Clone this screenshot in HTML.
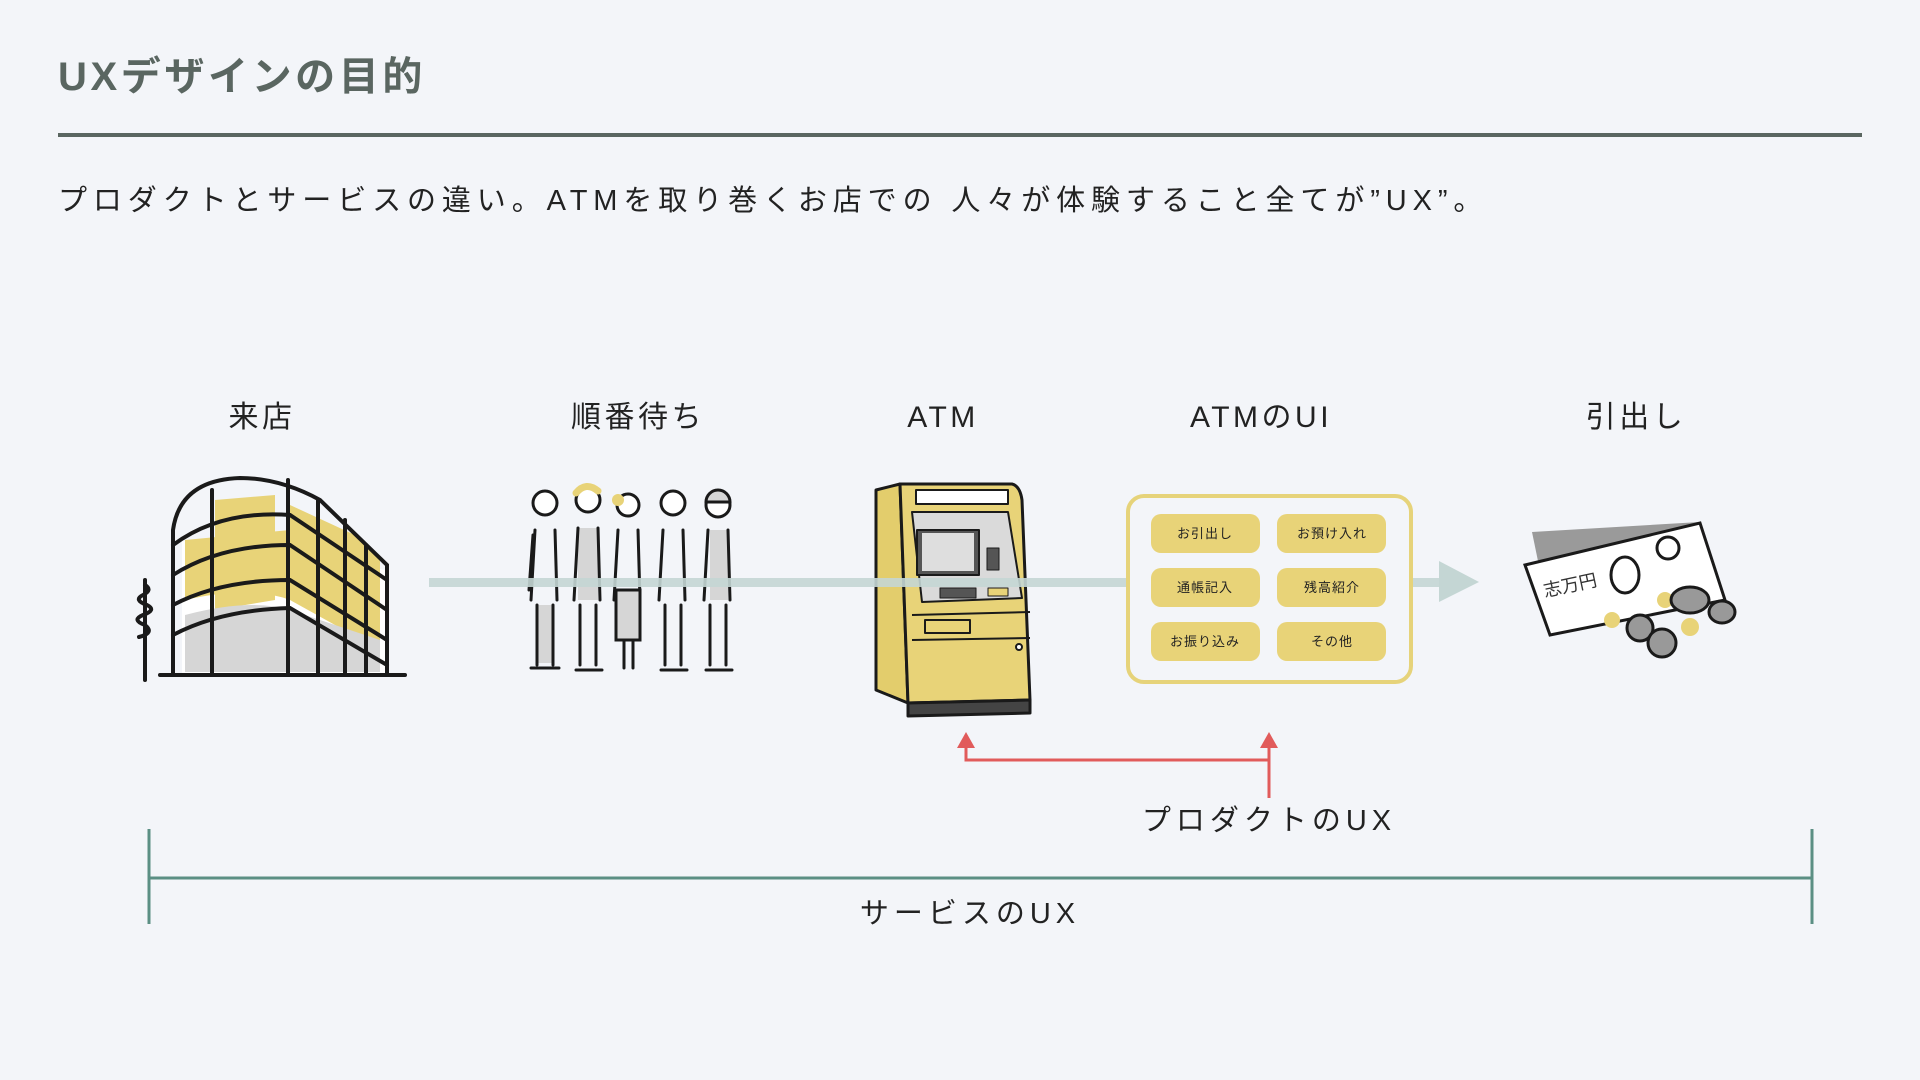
<!DOCTYPE html>
<html><head><meta charset="utf-8"><style>
html,body{margin:0;padding:0;background:#f3f5f9;}
body{width:1920px;height:1080px;position:relative;overflow:hidden;font-family:"Liberation Sans","Noto Sans CJK JP",sans-serif;}
</style></head><body>
<svg width="1920" height="1080" style="position:absolute;left:0;top:0" xmlns="http://www.w3.org/2000/svg">
<text x="58" y="90" font-size="40" font-weight="bold" fill="#5a6661" letter-spacing="3.6" font-family="Liberation Sans, Noto Sans CJK JP, sans-serif">UXデザインの目的</text>
<rect x="58" y="133" width="1804" height="4" fill="#5a6661"/>
<text x="58" y="210" font-size="29" fill="#222" letter-spacing="5.9" font-family="Liberation Sans, Noto Sans CJK JP, sans-serif">プロダクトとサービスの違い。ATMを取り巻くお店での 人々が体験すること全てが”UX”。</text>

<g font-size="30" fill="#222" text-anchor="middle" letter-spacing="3.5" font-family="Liberation Sans, Noto Sans CJK JP, sans-serif">
<text x="262" y="427">来店</text>
<text x="638" y="427">順番待ち</text>
<text x="943" y="427">ATM</text>
<text x="1261" y="427">ATMのUI</text>
<text x="1636" y="427">引出し</text>
</g>

<!-- building -->
<g stroke="#1a1a1a" stroke-width="4" fill="none" stroke-linecap="round">
<path d="M182,540 L182,674 L386,674 L386,570 Z" fill="#fff" stroke="none"/>
<path d="M185,600 Q250,585 290,600 L290,530 L185,540Z" fill="#e8d378" stroke="none"/>
<path d="M215,500 L275,495 L275,600 L215,610Z" fill="#e8d378" stroke="none"/>
<path d="M290,505 L355,535 L380,560 L380,650 L290,600Z" fill="#e8d378" stroke="none"/>
<path d="M185,615 Q250,598 290,610 L380,640 L380,672 L185,672Z" fill="#d6d6d6" stroke="none"/>
<path d="M173,674 L173,530 Q180,480 240,478 Q280,478 320,500 L387,565 L387,674"/>
<path d="M173,545 Q220,510 290,515 L387,580"/>
<path d="M173,575 Q220,545 290,545 L387,610"/>
<path d="M173,605 Q220,580 290,580 L387,640"/>
<path d="M173,635 Q220,610 290,608 L387,665"/>
<path d="M212,490 L212,674"/><path d="M288,480 L288,674"/>
<path d="M318,500 L318,674"/><path d="M345,520 L345,674"/><path d="M366,545 L366,674"/>
<path d="M160,675 L405,675"/>
<path d="M145,580 L145,680"/>
<path d="M145,585 q8,5 -2,10 q-10,5 4,10 q10,5 -4,10 q-12,5 2,10 q10,8 -6,12"/>
</g>

<!-- people -->
<g stroke="#1a1a1a" stroke-width="3" fill="none" stroke-linecap="round">
<g transform="translate(545,0)"><circle cx="0" cy="503" r="12" fill="#fff"/><path d="M-10,530 L-14,600 M10,530 L12,600 M-12,535 L-16,590" /><rect x="-8" y="605" width="16" height="58" fill="#d6d6d6" stroke="none"/><path d="M-8,605 L-8,665 M8,605 L8,665 M-14,668 L2,668 M2,668 L14,668"/></g>
<g transform="translate(588,0)"><circle cx="0" cy="500" r="12" fill="#fff"/><path d="M-12,493 q10,-12 22,-2" stroke="#e8d378" stroke-width="7"/><rect x="-10" y="528" width="20" height="72" fill="#d6d6d6" stroke="none"/><path d="M-10,528 L-14,600 M10,528 L12,600 M-8,605 L-8,665 M8,605 L8,665 M-12,670 L14,670"/></g>
<g transform="translate(628,0)"><circle cx="0" cy="505" r="11" fill="#fff"/><circle cx="-10" cy="500" r="6" fill="#e8d378" stroke="none"/><path d="M-10,530 L-14,600 M10,530 L12,600"/><rect x="-12" y="590" width="24" height="50" fill="#d6d6d6"/><path d="M-4,640 L-4,668 M5,640 L5,668"/></g>
<g transform="translate(673,0)"><circle cx="0" cy="503" r="12" fill="#fff"/><path d="M-10,530 L-14,600 M10,530 L12,600 M-8,605 L-8,665 M8,605 L8,665 M-12,670 L14,670"/></g>
<g transform="translate(718,0)"><circle cx="0" cy="505" r="12" fill="#fff"/><path d="M-12,502 a12,12 0 0 1 24,0z" fill="#d6d6d6"/><rect x="-8" y="530" width="18" height="70" fill="#d6d6d6" stroke="none"/><path d="M-10,530 L-14,600 M10,530 L12,600 M-8,605 L-8,665 M8,605 L8,665 M-12,670 L14,670"/></g>
</g>

<!-- ATM -->
<g stroke="#1a1a1a" stroke-width="3" stroke-linejoin="round">
<path d="M876,490 L900,484 L908,703 L876,690Z" fill="#e3cd6c"/>
<path d="M900,484 L1012,484 Q1020,486 1022,500 L1030,700 L908,703Z" fill="#e8d378"/>
<rect x="916" y="490" width="92" height="14" fill="#fff" stroke-width="2"/>
<path d="M912,512 L1008,512 L1022,598 L922,602Z" fill="#dadada" stroke-width="2"/>
<rect x="917" y="530" width="62" height="45" fill="#555" stroke-width="2"/>
<rect x="922" y="533" width="52" height="38" fill="#dedede" stroke="none"/>
<rect x="987" y="548" width="12" height="22" fill="#555" stroke-width="1"/>
<rect x="940" y="588" width="36" height="10" fill="#555" stroke-width="1"/>
<rect x="988" y="588" width="20" height="8" fill="#e8d378" stroke-width="1"/>
<path d="M912,615 L1030,612" fill="none" stroke-width="2"/>
<rect x="925" y="620" width="45" height="13" fill="#e8d378" stroke-width="2"/>
<path d="M912,640 L1030,638" fill="none" stroke-width="2"/>
<circle cx="1019" cy="647" r="3" fill="#fff" stroke-width="2"/>
<path d="M908,703 L1030,700 L1030,713 L908,716Z" fill="#444"/>
</g>

<!-- flow line -->
<rect x="429" y="578" width="1016" height="9" fill="#c4d6d4" opacity="0.9"/>
<path d="M1439,561 L1479,582 L1439,602Z" fill="#c4d6d4"/>

<!-- UI box -->
<rect x="1128" y="496" width="283" height="186" rx="16" fill="#f3f5f9" stroke="#e6d37a" stroke-width="4"/>
<g fill="#e8d378">
<rect x="1151" y="514" width="109" height="39" rx="10"/><rect x="1277" y="514" width="109" height="39" rx="10"/>
<rect x="1151" y="568" width="109" height="39" rx="10"/><rect x="1277" y="568" width="109" height="39" rx="10"/>
<rect x="1151" y="622" width="109" height="39" rx="10"/><rect x="1277" y="622" width="109" height="39" rx="10"/>
</g>
<g font-size="13" fill="#222" text-anchor="middle" letter-spacing="1" font-family="Liberation Sans, Noto Sans CJK JP, sans-serif">
<text x="1205" y="538">お引出し</text><text x="1332" y="538">お預け入れ</text>
<text x="1205" y="592">通帳記入</text><text x="1332" y="592">残高紹介</text>
<text x="1205" y="646">お振り込み</text><text x="1332" y="646">その他</text>
</g>

<!-- money -->
<g stroke="#1a1a1a" stroke-width="3" fill="none" stroke-linecap="round">
<path d="M1532,532 L1700,522 L1712,585 L1545,595Z" fill="#9a9a9a" stroke="none"/>
<path d="M1525,565 L1700,523 L1725,600 L1550,635Z" fill="#fff"/>
<ellipse cx="1625" cy="575" rx="14" ry="18"/>
<circle cx="1668" cy="548" r="11"/>
<text x="1545" y="597" font-size="18" fill="#333" stroke="none" font-family="Liberation Sans, Noto Sans CJK JP, sans-serif" transform="rotate(-12 1545 597)">志万円</text>
<circle cx="1665" cy="600" r="8" fill="#e8d378" stroke="none"/>
<circle cx="1612" cy="620" r="8" fill="#e8d378" stroke="none"/>
<ellipse cx="1690" cy="600" rx="19" ry="13" fill="#999"/>
<ellipse cx="1722" cy="612" rx="13" ry="11" fill="#999"/>
<circle cx="1640" cy="628" r="13" fill="#999"/>
<circle cx="1662" cy="643" r="14" fill="#999"/>
<circle cx="1690" cy="627" r="9" fill="#e8d378" stroke="none"/>
</g>

<!-- product UX red -->
<g stroke="#e15b5b" stroke-width="3" fill="none">
<path d="M966,745 L966,760 L1269,760"/>
<path d="M1269,745 L1269,798"/>
</g>
<path d="M966,732 L957,748 L975,748Z" fill="#e15b5b"/>
<path d="M1269,732 L1260,748 L1278,748Z" fill="#e15b5b"/>
<text x="1269" y="830" font-size="29" fill="#222" text-anchor="middle" letter-spacing="5" font-family="Liberation Sans, Noto Sans CJK JP, sans-serif">プロダクトのUX</text>

<!-- service UX -->
<g stroke="#5b8f84" stroke-width="3">
<path d="M149,878 L1812,878"/>
<path d="M149,829 L149,924"/><path d="M1812,829 L1812,924"/>
</g>
<text x="970" y="923" font-size="29" fill="#222" text-anchor="middle" letter-spacing="5" font-family="Liberation Sans, Noto Sans CJK JP, sans-serif">サービスのUX</text>
</svg>
</body></html>
